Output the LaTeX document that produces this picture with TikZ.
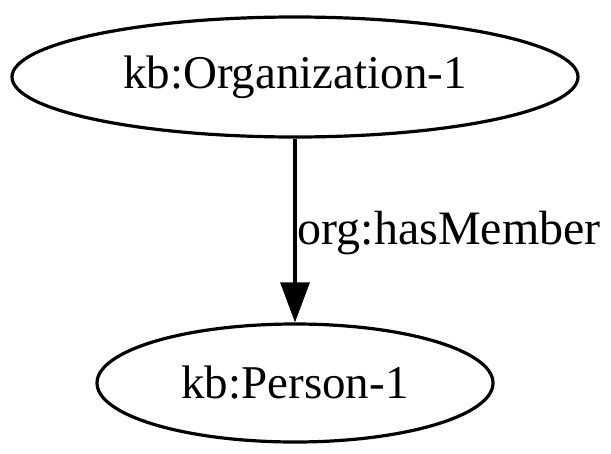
\documentclass[tikz,border=0pt]{standalone}
\usepackage{fontspec}
\setmainfont{Liberation Serif}
\usetikzlibrary{shapes.geometric,arrows.meta}

\tikzset{
    entity/.style={ellipse, draw, line width=3.2pt, inner sep=0pt, font=\fontsize{47}{50}\selectfont},
    rel/.style={line width=3.2pt, -{Triangle[length=40pt,width=29pt]}},
}

\begin{document}
\begin{tikzpicture}[x=1pt, y=-1pt]
    \useasboundingbox (0,0) rectangle (611,453);

    %nodes
    \node[entity, minimum width=566pt, minimum height=120pt] (org) at (295,77) {kb:Organization-1};
    \node[entity, minimum width=396pt, minimum height=118pt] (person) at (295,383) {kb:Person-1};

    %edge
    \draw[rel] (org) -- (person) node[right, pos=.5, inner sep=1pt, yshift=-3pt, font=\fontsize{48}{50}\selectfont] (lbl) {org:hasMember};
\end{tikzpicture}
\end{document}
